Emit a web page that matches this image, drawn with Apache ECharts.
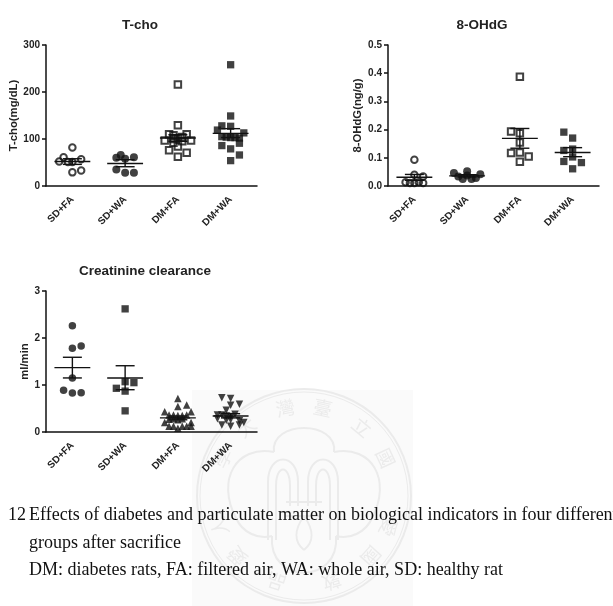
<!DOCTYPE html>
<html>
<head>
<meta charset="utf-8">
<style>html,body{margin:0;padding:0;background:#fff}#chart{width:613px;height:606px}</style>
<script src="https://cdn.jsdelivr.net/npm/echarts@6/dist/echarts.min.js"></script>
</head>
<body>
<div id="chart"></div>
<script>
const groups = ['SD+FA', 'SD+WA', 'DM+FA', 'DM+WA'];

// Per-animal readings for each group; jitter is the sideways slot of each point (12 slots per category).
const tchoValues = [
  [82, 61, 57, 52, 51, 51, 29, 33],
  [66, 60, 58, 61, 35, 28, 28],
  [216, 129, 110, 110, 108, 104, 102, 100, 97, 97, 95, 92, 84, 76, 71, 62],
  [258, 149, 128, 127, 119, 113, 105, 104, 103, 103, 102, 91, 86, 79, 66, 54]
];
const tchoJitter = [
  [0, -2, 2, -3, -1, 0, 0, 2],
  [-1, -2, 0, 2, -2, 0, 2],
  [0, 0, -2, 2, -1, 1, 0, -1, -3, 3, 1, -1, 0, -2, 2, 0],
  [0, 0, -2, 0, -3, 3, -2, -1, 0, 1, 2, 2, -2, 0, 2, 0]
];
const tchoMean = [52, 48, 102, 112];
const tchoLow = [46, 41, 95, 103];
const tchoHigh = [58, 56, 109, 122];

const ohdgValues = [
  [0.093, 0.04, 0.034, 0.013, 0.011, 0.011, 0.011, 0.013],
  [0.046, 0.034, 0.025, 0.052, 0.037, 0.025, 0.028, 0.042],
  [0.387, 0.193, 0.187, 0.154, 0.117, 0.119, 0.105, 0.086],
  [0.191, 0.17, 0.126, 0.131, 0.103, 0.087, 0.083, 0.061]
];
const ohdgJitter = [
  [0, 0, 2, -2, 0, 2, -1, 1],
  [-3, -2, -1, 0, 0, 1, 2, 3],
  [0, -2, 0, 0, -2, 0, 2, 0],
  [-2, 0, -2, 0, 0, -2, 2, 0]
];
const ohdgMean = [0.031, 0.036, 0.169, 0.119];
const ohdgLow = [0.02, 0.032, 0.134, 0.104];
const ohdgHigh = [0.041, 0.04, 0.204, 0.136];

const crclValues = [
  [2.26, 1.78, 1.83, 1.15, 0.89, 0.83, 0.835],
  [2.62, 1.07, 1.05, 0.93, 0.87, 0.45],
  [0.715, 0.575, 0.54, 0.43, 0.43, 0.36, 0.36, 0.35, 0.35, 0.36, 0.27, 0.28, 0.26, 0.28, 0.2, 0.2, 0.12, 0.12, 0.12, 0.12, 0.12, 0.08],
  [0.73, 0.715, 0.59, 0.57, 0.465, 0.36, 0.36, 0.34, 0.33, 0.38, 0.28, 0.25, 0.26, 0.24, 0.15, 0.15, 0.12, 0.2]
];
const crclJitter = [
  [0, 0, 2, 0, -2, 0, 2],
  [0, 0, 2, -2, 0, 0],
  [0, 2, 0, -3, 3, -2, -1, 0, 1, 2, -2, -1, 0, 1, -3, 3, -2, -1, 1, 2, 3, 0],
  [-2, 0, 2, 0, -1, -3, -2, -1, 0, 1, -3, -1, 0, 2, -2, 2, 0, 3]
];
const crclMean = [1.37, 1.15, 0.3, 0.34];
const crclLow = [1.15, 0.9, 0.26, 0.3];
const crclHigh = [1.59, 1.41, 0.34, 0.39];

const captionNumber = '12';
const captionLines = [
  'Effects of diabetes and particulate matter on biological indicators in four different',
  'groups after sacrifice',
  'DM: diabetes rats, FA: filtered air, WA: whole air, SD: healthy rat'
];
const sealUpper = ['國', '立', '臺', '灣', '大', '學'];
const sealLower = ['愛', '國', '敦', '品', '愛', '人'];

const INK = '#111';
const SANS = '"Liberation Sans", Arial, sans-serif';
const SERIF = '"Liberation Serif", "Times New Roman", serif';
const SLOT = 1 / 12;

const open = { color: 'rgba(255,255,255,0)', borderColor: INK, borderWidth: 2 };
const solid = { color: INK };
const panels = [
  { title: 'T-cho', titleX: 135, titleY: 13, left: 46, top: 45, height: 141, yName: 'T-cho(mg/dL)', nameGap: 26,
    max: 300, step: 100, digits: 0, values: tchoValues, jitter: tchoJitter, mean: tchoMean, low: tchoLow, high: tchoHigh,
    marks: [['circle', 6.5, open, 0], ['circle', 8, solid, 0], ['rect', 6.5, open, 0], ['rect', 7.3, solid, 0]] },
  { title: '8-OHdG', titleX: 477, titleY: 13, left: 388, top: 45, height: 141, yName: '8-OHdG(ng/g)', nameGap: 25,
    max: 0.5, step: 0.1, digits: 1, values: ohdgValues, jitter: ohdgJitter, mean: ohdgMean, low: ohdgLow, high: ohdgHigh,
    marks: [['circle', 6.5, open, 0], ['circle', 8, solid, 0], ['rect', 6.5, open, 0], ['rect', 7.3, solid, 0]] },
  { title: 'Creatinine clearance', titleX: 140, titleY: 259, left: 46, top: 291, height: 141, yName: 'ml/min', nameGap: 16,
    max: 3, step: 1, digits: 0, values: crclValues, jitter: crclJitter, mean: crclMean, low: crclLow, high: crclHigh,
    marks: [['circle', 7.5, solid, 0], ['rect', 7.3, solid, 0], ['triangle', 7.5, solid, 0], ['triangle', 7.5, solid, 180]] }
];

// Mean line with SEM whiskers and caps for one group.
function meanSem(api) {
  const g = api.value(0);
  const at = (dx, v) => api.coord([g + dx, v]);
  const line = (a, b) => ({ type: 'line', shape: { x1: a[0], y1: a[1], x2: b[0], y2: b[1] }, style: { stroke: INK, lineWidth: 1.4 } });
  const m = api.value(1), lo = api.value(2), hi = api.value(3);
  return { type: 'group', children: [
    line(at(-0.34, m), at(0.34, m)),
    line(at(0, lo), at(0, hi)),
    line(at(-0.18, lo), at(0.18, lo)),
    line(at(-0.18, hi), at(0.18, hi))
  ] };
}

const option = { animation: false, backgroundColor: '#fff', title: [], grid: [], xAxis: [], yAxis: [], series: [] };
panels.forEach((p, i) => {
  option.title.push({ text: p.title, left: p.titleX, top: p.titleY, textAlign: 'center',
    textStyle: { fontFamily: SANS, fontSize: 13.5, fontWeight: 'bold', color: '#222' } });
  option.grid.push({ left: p.left, top: p.top, width: 211, height: p.height });
  // Visible category axis carries the ticks and labels; the hidden value axis places the jittered points.
  option.xAxis.push({ gridIndex: i, type: 'category', data: groups,
    axisLine: { onZero: false, lineStyle: { color: INK, width: 1.5 } },
    axisTick: { alignWithLabel: true, length: 4, lineStyle: { color: INK, width: 1.5 } },
    axisLabel: { rotate: 45, interval: 0, margin: 12, fontFamily: SANS, fontSize: 10, fontWeight: 'bold', color: '#222' } });
  option.xAxis.push({ gridIndex: i, type: 'value', min: -0.5, max: 3.5, show: false });
  option.yAxis.push({ gridIndex: i, type: 'value', min: 0, max: p.max, interval: p.step,
    name: p.yName, nameLocation: 'middle', nameGap: p.nameGap,
    nameTextStyle: { fontFamily: SANS, fontSize: 11.3, fontWeight: 'bold', color: '#222' },
    splitLine: { show: false },
    axisLine: { show: true, onZero: false, lineStyle: { color: INK, width: 1.5 } },
    axisTick: { show: true, length: 4, lineStyle: { color: INK, width: 1.5 } },
    axisLabel: { margin: 6, fontFamily: SANS, fontSize: 10, fontWeight: 'bold', color: '#222',
      formatter: v => v.toFixed(p.digits) } });
  const xIdx = i * 2 + 1;
  p.values.forEach((vals, g) => {
    const [symbol, size, style, rot] = p.marks[g];
    option.series.push({ type: 'scatter', xAxisIndex: xIdx, yAxisIndex: i, symbol, symbolSize: size, symbolRotate: rot,
      itemStyle: style, z: 3,
      data: vals.map((v, k) => [g + p.jitter[g][k] * SLOT, v]) });
  });
  option.series.push({ type: 'custom', xAxisIndex: xIdx, yAxisIndex: i, z: 4, renderItem: (params, api) => meanSem(api),
    data: groups.map((_, g) => [g, p.mean[g], p.low[g], p.high[g]]) });
});

// University seal printed faintly behind the lower part of the page, then the caption text.
const SEAL = '#ebebeb';
const sealStroke = { stroke: SEAL, fill: 'none', lineWidth: 2 };
const sealCx = 304, sealCy = 496;
const ringGlyphs = [];
const placeGlyphs = (chars, angles) => chars.forEach((c, k) => {
  const a = angles[k] * Math.PI / 180;
  ringGlyphs.push({ type: 'text', z: -9, x: sealCx + 90 * Math.cos(a), y: sealCy - 90 * Math.sin(a),
    rotation: a - Math.PI / 2,
    style: { text: c, fill: SEAL, fontSize: 19, fontFamily: '"Noto Sans CJK TC"', align: 'center', verticalAlign: 'middle' } });
});
placeGlyphs(sealUpper, [25, 50, 78, 102, 130, 155]);
placeGlyphs(sealLower, [-20, -42, -72, -108, -138, -160]);

// Curved strokes of the seal: each entry is [x1, y1, cx1, cy1, cx2, cy2, x2, y2].
const sealCurves = [
  [274, 452, 270, 420, 338, 420, 334, 452],
  [334, 452, 372, 445, 392, 480, 372, 518],
  [372, 518, 366, 532, 350, 540, 336, 536],
  [336, 536, 340, 585, 268, 585, 272, 536],
  [272, 536, 258, 540, 242, 532, 236, 518],
  [236, 518, 216, 480, 236, 445, 274, 452],
  [268, 482, 268, 452, 298, 452, 298, 482],
  [338, 482, 338, 452, 308, 452, 308, 482],
  [276, 486, 276, 464, 290, 464, 290, 486],
  [330, 486, 330, 464, 316, 464, 316, 486],
  [304, 516, 294, 530, 294, 542, 304, 550],
  [304, 516, 314, 530, 314, 542, 304, 550]
];
const sealLines = [
  [268, 482, 268, 540], [298, 482, 298, 506], [338, 482, 338, 540], [308, 482, 308, 506],
  [276, 486, 276, 540], [290, 486, 290, 506], [330, 486, 330, 540], [316, 486, 316, 506],
  [286, 502, 322, 502], [286, 516, 322, 516]
];
const captionX = 29, captionY = [515, 543, 570];
const captionStyle = { fill: '#111', fontFamily: SERIF, fontSize: 18, verticalAlign: 'middle' };
option.graphic = [
  { type: 'rect', z: -10, shape: { x: 192, y: 390, width: 221, height: 216 }, style: { fill: '#fafafa' } },
  { type: 'circle', z: -9, shape: { cx: sealCx, cy: sealCy, r: 107 }, style: sealStroke },
  { type: 'circle', z: -9, shape: { cx: sealCx, cy: sealCy, r: 104 }, style: { stroke: SEAL, fill: 'none', lineWidth: 1 } },
  ...sealCurves.map(c => ({ type: 'bezierCurve', z: -9,
    shape: { x1: c[0], y1: c[1], cpx1: c[2], cpy1: c[3], cpx2: c[4], cpy2: c[5], x2: c[6], y2: c[7] }, style: sealStroke })),
  ...sealLines.map(l => ({ type: 'line', z: -9, shape: { x1: l[0], y1: l[1], x2: l[2], y2: l[3] }, style: sealStroke })),
  ...ringGlyphs,
  { type: 'text', z: 5, x: 8, y: captionY[0], style: { text: captionNumber, ...captionStyle } },
  ...captionLines.map((t, k) => ({ type: 'text', z: 5, x: captionX, y: captionY[k], style: { text: t, ...captionStyle } }))
];

echarts.init(document.getElementById('chart'), null, { renderer: 'canvas' }).setOption(option);
</script>
</body>
</html>
